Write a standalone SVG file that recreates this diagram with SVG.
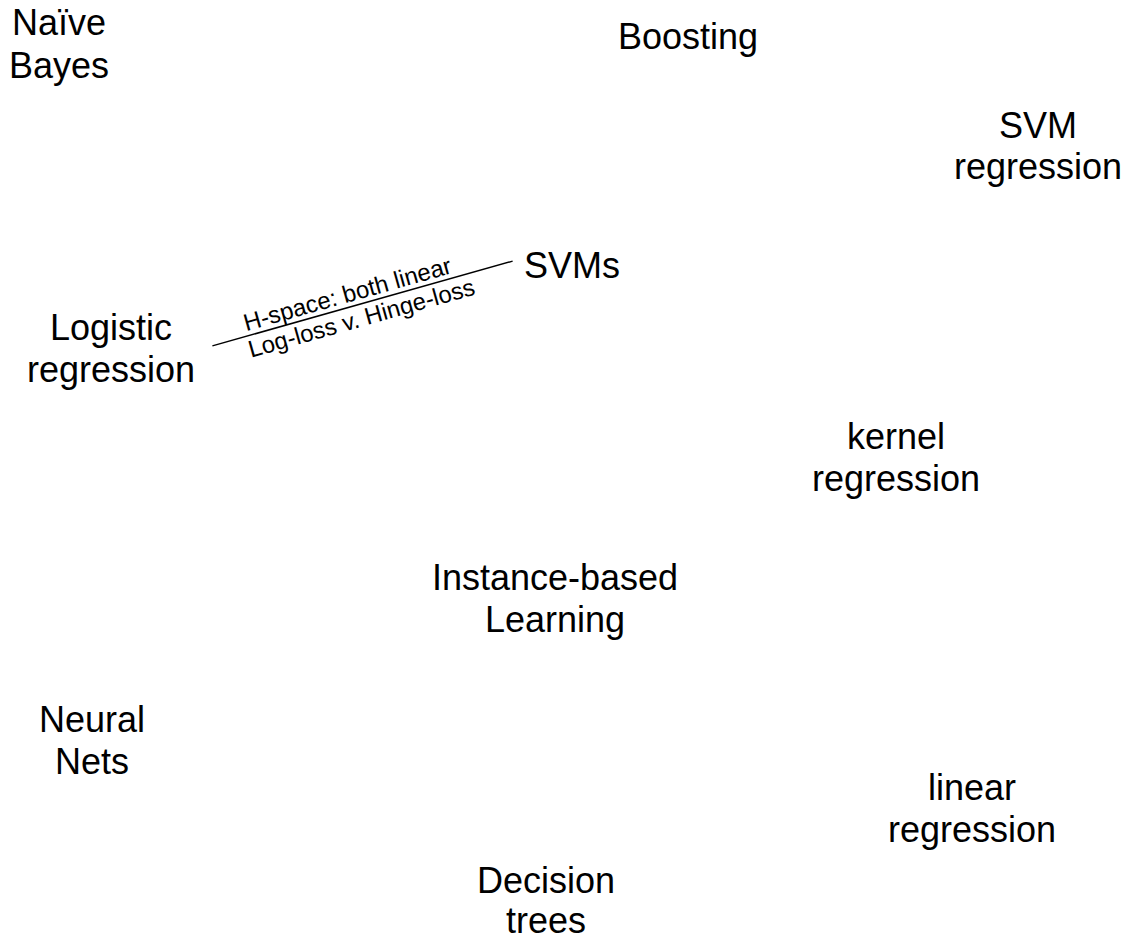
<svg xmlns="http://www.w3.org/2000/svg" width="1133" height="941" viewBox="0 0 1133 941">
<style>
.n{font-family:"Liberation Sans",Arial,sans-serif;font-size:36px;fill:#000;text-anchor:middle}
.l{font-family:"Liberation Sans",Arial,sans-serif;font-size:24px;fill:#000;text-anchor:middle}
.e{stroke:#000;stroke-width:1.5;fill:none}
</style>
<rect width="1133" height="941" fill="#fff"/>
<g id="connectors">
<g transform="translate(362.5,303.5) rotate(-15.77)">
<line class="e" x1="-156" y1="0" x2="156" y2="0"/>
<text class="l" x="-12" y="-5">H-space: both linear</text>
<text class="l" x="-5" y="22">Log-loss v. Hinge-loss</text>
</g>
</g>
<g id="naive-bayes"><text class="n" x="59" y="35">Naïve</text><text class="n" x="59" y="78">Bayes</text></g>
<g id="boosting"><text class="n" x="688" y="49">Boosting</text></g>
<g id="svm-regression"><text class="n" x="1038" y="138">SVM</text><text class="n" x="1038" y="179">regression</text></g>
<g id="svms"><text class="n" x="572" y="278">SVMs</text></g>
<g id="logistic-regression"><text class="n" x="111" y="340">Logistic</text><text class="n" x="111" y="382">regression</text></g>
<g id="kernel-regression"><text class="n" x="896" y="449">kernel</text><text class="n" x="896" y="491">regression</text></g>
<g id="instance-based"><text class="n" x="555" y="590">Instance-based</text><text class="n" x="555" y="632">Learning</text></g>
<g id="neural-nets"><text class="n" x="92" y="732">Neural</text><text class="n" x="92" y="774">Nets</text></g>
<g id="linear-regression"><text class="n" x="972" y="800">linear</text><text class="n" x="972" y="842">regression</text></g>
<g id="decision-trees"><text class="n" x="546" y="893">Decision</text><text class="n" x="546" y="933">trees</text></g>
</svg>
